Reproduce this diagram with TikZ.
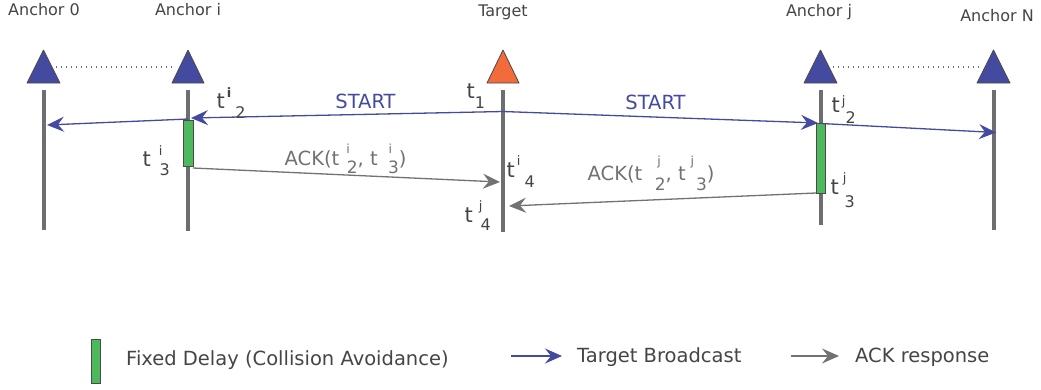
\documentclass[tikz,border=0pt]{standalone}
\usepackage{fontspec}
\setmainfont{DejaVu Sans}
\usetikzlibrary{arrows.meta}
\definecolor{ablue}{HTML}{434A9F}
\definecolor{aorange}{HTML}{F26B3A}
\definecolor{agreen}{HTML}{4DB85E}
\definecolor{lgray}{HTML}{6D6E71}
\definecolor{tgray}{HTML}{454545}
\definecolor{ackgray}{HTML}{727272}
\definecolor{edgegray}{HTML}{4A4A4A}
\definecolor{dotgray}{HTML}{707070}
% #1 gap before sup, #2 sup, #3 gap before sub, #4 sub, #5 raise, #6 drop, #7 sup size, #8 sub size
\newcommand{\ssx}[8]{\kern#1\raisebox{#5}{\fontsize{#7}{#7}\selectfont #2}\kern#3\raisebox{-#6}{\fontsize{#8}{#8}\selectfont #4}}
\tikzset{
  lbl/.style={inner sep=0pt, text=tgray, font=\fontsize{16}{18}\selectfont},
  tlbl/.style={inner sep=0pt, anchor=base west, text=tgray, font=\fontsize{21}{24}\selectfont},
  msg/.style={inner sep=0pt, font=\fontsize{19.5}{22}\selectfont},
  life/.style={draw=lgray, line width=4pt},
  tri/.style={draw=edgegray, line width=0.8pt, line join=round},
  delaybox/.style={draw=edgegray, fill=agreen, line width=0.8pt},
  bcast/.style={draw=ablue, line width=1.3pt, -{Stealth[length=17pt,width=15pt,inset=6pt]}},
  ack/.style={draw=ackgray, line width=1.3pt, -{Stealth[length=17pt,width=15pt,inset=6pt]}},
  dots/.style={draw=dotgray, line width=1.3pt, dash pattern=on 1.3pt off 3.7pt},
}
\begin{document}
\begin{tikzpicture}[x=1pt,y=-1pt]
\useasboundingbox[fill=white] (0,0) rectangle (1041,389);

% headings
\node[lbl] (h0) at (44,10) {Anchor 0};
\node[lbl] (hi) at (188,10) {Anchor i};
\node[lbl] (ht) at (503,12) {Target};
\node[lbl] (hj) at (819,12) {Anchor j};
\node[lbl] (hn) at (997,16) {Anchor N};

% triangles
\filldraw[tri, fill=ablue] (27,83) -- (43.5,50) -- (60,83) -- cycle;
\filldraw[tri, fill=ablue] (172,83) -- (188,50) -- (204,83) -- cycle;
\filldraw[tri, fill=aorange] (487,83) -- (503,50) -- (519,83) -- cycle;
\filldraw[tri, fill=ablue] (804,83) -- (820.5,50) -- (837,83) -- cycle;
\filldraw[tri, fill=ablue] (977,83) -- (993.5,50) -- (1010,83) -- cycle;

% dotted links
\coordinate (d0) at (56,67); \coordinate (di) at (174,67);
\coordinate (dj) at (833,67); \coordinate (dn) at (979,67);
\draw[dots] (d0) -- (di);
\draw[dots] (dj) -- (dn);

% lifelines
\draw[life] (43.5,90) -- (43.5,230);
\draw[life] (188,90) -- (188,231);
\draw[life] (503,90) -- (503,232);
\draw[life] (820.5,90) -- (820.5,225);
\draw[life] (994,90) -- (994,230);

% delay boxes
\draw[delaybox] (183,120) rectangle (193,166);
\draw[delaybox] (816,123) rectangle (825,193);

% message points
\coordinate (Ts) at (503,111.5);
\coordinate (Ir) at (191,118);
\coordinate (Is) at (188,119);
\coordinate (Zr) at (47,125);
\coordinate (Jr) at (818,123);
\coordinate (Js) at (821,123.5);
\coordinate (Nr) at (996,132.5);
\coordinate (Ia) at (193,168);
\coordinate (Tia) at (500,182);
\coordinate (Ja) at (816,193);
\coordinate (Tja) at (509,206);

\draw[bcast] (Ts) -- (Ir);
\draw[bcast] (Is) -- (Zr);
\draw[bcast] (Ts) -- (Jr);
\draw[bcast] (Js) -- (Nr);
\draw[ack] (Ia) -- (Tia);
\draw[ack] (Ja) -- (Tja);

% message labels
\node[msg, text=ablue] (s1) at (365.5,101) {START};
\node[msg, text=ablue] (s2) at (655.5,102) {START};
\node[msg, text=ackgray, anchor=base west] (a1) at (284.5,165)
  {ACK(t\ssx{7pt}{i}{-3pt}{2}{12pt}{8pt}{12.5}{17}, t\ssx{11pt}{i}{-4pt}{3}{12pt}{8pt}{12.5}{17})};
\node[msg, text=ackgray, anchor=base west] (a2) at (587.5,180)
  {ACK(t\ssx{15pt}{j}{-6pt}{2}{15pt}{10pt}{12.5}{17}, t\ssx{5pt}{j}{2pt}{3}{15pt}{10pt}{12.5}{17})};

% time labels
\node[tlbl] (t1) at (466.5,98) {t\raisebox{-10pt}{\fontsize{16}{16}\selectfont 1}};
\node[tlbl] (ti2) at (216.5,108) {t\ssx{2pt}{\textbf{i}}{4pt}{2}{11pt}{10pt}{13}{16}};
\node[tlbl] (ti3) at (142.5,166) {t\ssx{8pt}{i}{-3pt}{3}{11pt}{9pt}{13}{16}};
\node[tlbl] (ti4) at (506.5,177) {t\ssx{2pt}{i}{4pt}{4}{12pt}{10pt}{13}{16}};
\node[tlbl] (tj4) at (464.5,222) {t\ssx{6pt}{j}{-2pt}{4}{12pt}{8pt}{13}{16}};
\node[tlbl] (tj2) at (831.5,112) {t\ssx{2pt}{j}{0pt}{2}{7pt}{11pt}{13}{16}};
\node[tlbl] (tj3) at (830.5,194) {t\ssx{4pt}{j}{-2pt}{3}{12pt}{13pt}{13}{16}};

% legend
\draw[delaybox] (91,339) rectangle (100,383);
\node[msg, text=tgray, anchor=base west] (l1) at (126,365) {Fixed Delay (Collision Avoidance)};
\coordinate (lb1) at (511,356); \coordinate (lb2) at (562,356);
\draw[bcast] (lb1) -- (lb2);
\node[msg, text=tgray, anchor=base west] (l2) at (577,362) {Target Broadcast};
\coordinate (la1) at (791,356); \coordinate (la2) at (839,356);
\draw[ack] (la1) -- (la2);
\node[msg, text=tgray, anchor=base west] (l3) at (855,362) {ACK response};
\end{tikzpicture}
\end{document}
